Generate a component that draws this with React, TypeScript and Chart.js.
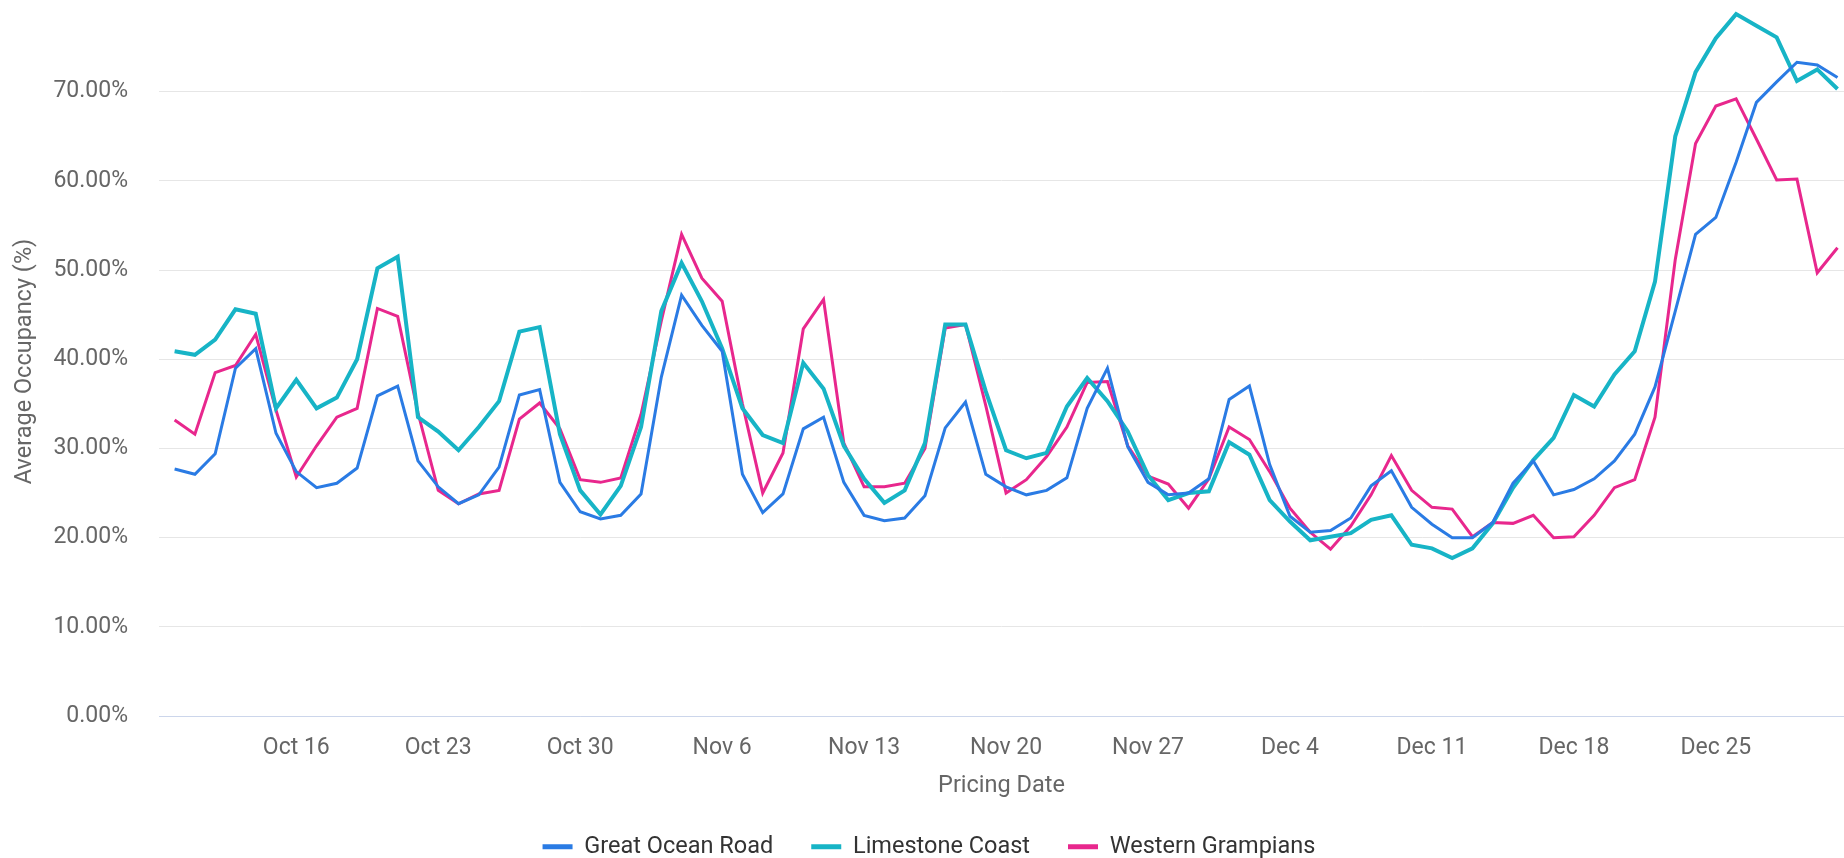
import React, { useEffect, useRef } from 'react';
import { Chart, registerables } from 'chart.js';

Chart.register(...registerables);

const dates = [
  'Oct 10', 'Oct 11', 'Oct 12', 'Oct 13', 'Oct 14', 'Oct 15', 'Oct 16', 'Oct 17', 'Oct 18', 'Oct 19', 'Oct 20',
  'Oct 21', 'Oct 22', 'Oct 23', 'Oct 24', 'Oct 25', 'Oct 26', 'Oct 27', 'Oct 28', 'Oct 29', 'Oct 30', 'Oct 31',
  'Nov 1', 'Nov 2', 'Nov 3', 'Nov 4', 'Nov 5', 'Nov 6', 'Nov 7', 'Nov 8', 'Nov 9', 'Nov 10',
  'Nov 11', 'Nov 12', 'Nov 13', 'Nov 14', 'Nov 15', 'Nov 16', 'Nov 17', 'Nov 18', 'Nov 19', 'Nov 20',
  'Nov 21', 'Nov 22', 'Nov 23', 'Nov 24', 'Nov 25', 'Nov 26', 'Nov 27', 'Nov 28', 'Nov 29', 'Nov 30',
  'Dec 1', 'Dec 2', 'Dec 3', 'Dec 4', 'Dec 5', 'Dec 6', 'Dec 7', 'Dec 8', 'Dec 9', 'Dec 10',
  'Dec 11', 'Dec 12', 'Dec 13', 'Dec 14', 'Dec 15', 'Dec 16', 'Dec 17', 'Dec 18', 'Dec 19', 'Dec 20',
  'Dec 21', 'Dec 22', 'Dec 23', 'Dec 24', 'Dec 25', 'Dec 26', 'Dec 27', 'Dec 28', 'Dec 29', 'Dec 30', 'Dec 31',
];

const tickLabels = ['Oct 16', 'Oct 23', 'Oct 30', 'Nov 6', 'Nov 13', 'Nov 20', 'Nov 27', 'Dec 4', 'Dec 11', 'Dec 18', 'Dec 25'];
const yTicks = [0, 10, 20, 30, 40, 50, 60, 70];

const greatOceanRoad = [
  27.7, 27.1, 29.4, 39.0, 41.2, 31.7, 27.4, 25.6, 26.1, 27.8, 35.9,
  37.0, 28.6, 25.7, 23.8, 24.8, 27.9, 36.0, 36.6, 26.2, 22.9, 22.1,
  22.5, 24.9, 38.0, 47.2, 43.8, 40.9, 27.1, 22.8, 24.9, 32.2,
  33.5, 26.2, 22.5, 21.9, 22.2, 24.7, 32.3, 35.2, 27.1, 25.7,
  24.8, 25.3, 26.7, 34.5, 39.0, 30.2, 26.2, 24.8, 25.0, 26.6,
  35.5, 37.0, 28.2, 22.4, 20.6, 20.8, 22.2, 25.8, 27.5, 23.4,
  21.5, 20.0, 20.0, 21.7, 26.1, 28.6, 24.8, 25.4, 26.6, 28.6,
  31.6, 36.9, 45.4, 54.0, 55.9, 62.1, 68.8, 71.1, 73.3, 73.0, 71.6,
];

const limestoneCoast = [
  40.9, 40.5, 42.2, 45.6, 45.1, 34.5, 37.7, 34.5, 35.7, 40.0, 50.2,
  51.5, 33.5, 31.9, 29.8, 32.4, 35.3, 43.1, 43.6, 31.6, 25.3, 22.6,
  25.8, 32.4, 45.4, 50.8, 46.5, 41.2, 34.5, 31.5, 30.6, 39.6,
  36.7, 30.3, 26.6, 23.9, 25.3, 30.6, 43.9, 43.9, 36.4, 29.8,
  28.9, 29.5, 34.7, 37.9, 35.3, 31.9, 27.0, 24.2, 25.0, 25.2,
  30.7, 29.3, 24.2, 21.8, 19.7, 20.1, 20.5, 22.0, 22.5, 19.2,
  18.8, 17.7, 18.8, 21.6, 25.6, 28.7, 31.2, 36.0, 34.7, 38.3,
  40.9, 48.7, 65.0, 72.2, 76.0, 78.7, 77.4, 76.1, 71.2, 72.5, 70.3,
];

const westernGrampians = [
  33.2, 31.6, 38.5, 39.3, 42.8, 34.3, 26.8, 30.3, 33.5, 34.5, 45.7,
  44.8, 34.0, 25.3, 23.8, 24.9, 25.3, 33.3, 35.1, 32.2, 26.5, 26.2,
  26.7, 33.8, 44.3, 54.0, 49.1, 46.5, 35.0, 25.0, 29.5, 43.4,
  46.7, 30.6, 25.7, 25.7, 26.1, 30.0, 43.5, 43.9, 34.8, 25.0,
  26.5, 29.1, 32.4, 37.4, 37.5, 30.3, 26.9, 26.0, 23.3, 26.6,
  32.4, 31.0, 27.4, 23.3, 20.6, 18.7, 21.3, 24.8, 29.2, 25.3,
  23.4, 23.2, 20.1, 21.7, 21.6, 22.5, 20.0, 20.1, 22.5, 25.6,
  26.5, 33.5, 51.2, 64.2, 68.4, 69.2, 64.7, 60.1, 60.2, 49.7, 52.5,
];

const seriesNames = ['Great Ocean Road', 'Limestone Coast', 'Western Grampians'];
const seriesColors = ['#2a7be4', '#17b4c6', '#e8278d'];
const seriesWidths = [3, 4, 3];

const legendShift = {
  id: 'legendShift',
  afterLayout(chart: any) {
    const l = chart.legend;
    if (l) {
      l.left += 7;
      l.right += 7;
    }
  },
};

export default function App() {
  const ref = useRef<HTMLCanvasElement>(null);

  useEffect(() => {
    document.body.style.margin = '0';
    const canvas = ref.current;
    if (!canvas) return;
    const toPts = (arr: number[]) => arr.map((y, i) => ({ x: i, y }));
    const tickPos = tickLabels.map((l) => dates.indexOf(l));
    const seriesData = [greatOceanRoad, limestoneCoast, westernGrampians];
    const tickFont = { family: 'Roboto', size: 23 };
    const titleFont = { family: 'Roboto', size: 23.5 };

    const chart = new Chart(canvas, {
      type: 'line',
      data: {
        datasets: seriesData.map((arr, k) => ({
          label: seriesNames[k],
          data: toPts(arr),
          borderColor: seriesColors[k],
          backgroundColor: seriesColors[k],
          borderWidth: seriesWidths[k],
          pointRadius: 0,
          pointHoverRadius: 0,
          tension: 0,
          fill: false,
        })),
      },
      plugins: [legendShift],
      options: {
        animation: false,
        responsive: false,
        maintainAspectRatio: false,
        layout: { padding: { top: 7, left: 0, right: 0, bottom: 0 } },
        scales: {
          x: {
            type: 'linear',
            min: -0.77,
            max: 82.32,
            afterBuildTicks: (s: any) => {
              s.ticks = tickPos.map((v) => ({ value: v }));
            },
            afterFit: (s: any) => {
              s.height = 81;
              s.paddingLeft = 0;
              s.paddingRight = 0;
            },
            ticks: {
              autoSkip: false,
              maxRotation: 0,
              padding: 18.5,
              color: '#666666',
              font: tickFont,
              callback: (v: any) => dates[v as number],
            },
            grid: { display: false, drawTicks: false },
            border: { display: true, color: '#ccd6eb', width: 1 },
            title: {
              display: true,
              text: 'Pricing Date',
              color: '#666666',
              font: titleFont,
              padding: { top: 0, bottom: -3 },
            },
          },
          y: {
            min: 0,
            max: 79.5,
            afterFit: (s: any) => {
              s.width = 159;
              s.paddingTop = 0;
              s.paddingBottom = 0;
            },
            afterBuildTicks: (s: any) => {
              s.ticks = yTicks.map((v) => ({ value: v }));
            },
            ticks: {
              padding: 0,
              color: '#666666',
              font: tickFont,
              callback: (v: any) => Number(v).toFixed(2) + '%',
            },
            grid: {
              drawTicks: true,
              tickLength: 31,
              tickColor: 'rgba(0,0,0,0)',
              color: (ctx: any) => (ctx.tick && ctx.tick.value === 0 ? '#ccd6eb' : '#e6e6e6'),
              lineWidth: 1,
            },
            border: { display: false },
            title: {
              display: true,
              text: 'Average Occupancy (%)',
              color: '#666666',
              font: titleFont,
              padding: { top: 11, bottom: 0 },
            },
          },
        },
        plugins: {
          legend: {
            position: 'bottom',
            maxHeight: 61,
            labels: {
              boxWidth: 30,
              boxHeight: 5,
              padding: 38,
              color: '#333333',
              font: { family: 'Roboto', size: 23.5 },
              generateLabels: (c: any) =>
                Chart.defaults.plugins.legend.labels
                  .generateLabels(c)
                  .map((l: any) => ({ ...l, lineWidth: 0 })),
            },
          },
          tooltip: { enabled: false },
        },
      } as any,
    });
    return () => chart.destroy();
  }, []);

  return (
    <div style={{ position: 'relative', width: 1844, height: 858 }}>
      <canvas ref={ref} width={1844} height={858} style={{ display: 'block', width: 1844, height: 858 }} />
    </div>
  );
}
